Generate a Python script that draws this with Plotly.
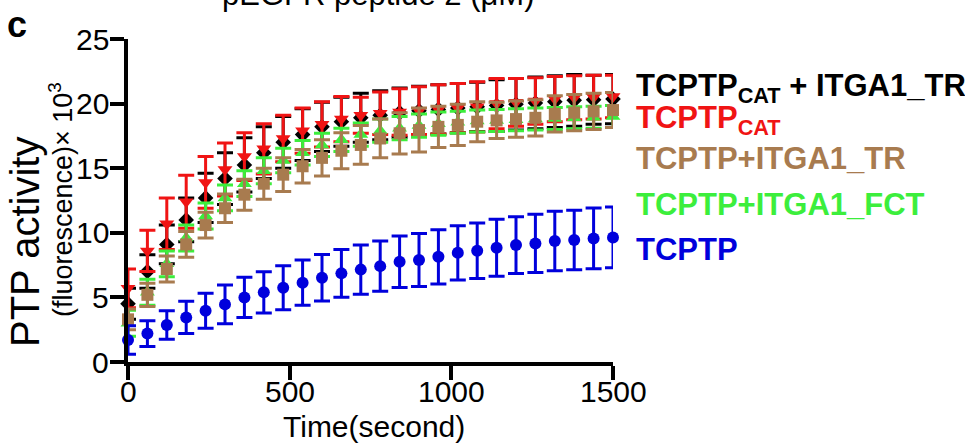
import plotly.graph_objects as go

# ---------------- data ----------------
time_s = [0, 60, 120, 180, 240, 300, 360, 420, 480, 540, 600, 660, 720, 780, 840,
          900, 960, 1020, 1080, 1140, 1200, 1260, 1320, 1380, 1440, 1500]

cat_tr_mean = [4.5, 7.0, 9.1, 11.0, 12.7, 14.2, 15.25, 16.2, 17.0, 17.6, 18.2, 18.6, 18.9,
               19.1, 19.3, 19.45, 19.55, 19.65, 19.75, 19.85, 19.95, 20.05, 20.15, 20.25, 20.3, 20.35]
cat_tr_err = [1.2, 1.3, 1.5, 1.7, 1.9, 2.0, 2.1, 2.0, 2.0, 2.0, 1.9, 1.9, 1.9,
              1.9, 1.9, 1.9, 1.9, 1.9, 1.9, 2.0, 2.0, 2.0, 2.0, 2.0, 1.9, 1.9]

cat_mean = [5.7, 8.6, 10.7, 12.4, 13.9, 14.9, 15.9, 16.5, 17.3, 17.9, 18.4, 18.8, 19.1,
            19.25, 19.35, 19.45, 19.55, 19.65, 19.75, 20.0, 20.1, 20.2, 20.35, 20.45, 20.5, 20.55]
cat_err = [1.5, 1.6, 2.0, 2.05, 2.0, 2.05, 1.85, 1.95, 1.8, 1.75, 1.75, 1.75, 1.4,
           1.65, 1.8, 1.85, 1.9, 1.9, 1.95, 1.95, 1.85, 1.8, 1.75, 1.7, 1.7, 1.65]

tr_mean = [3.3, 5.2, 7.2, 9.1, 10.6, 11.9, 12.95, 13.8, 14.5, 15.15, 15.8, 16.35, 16.8,
           17.3, 17.7, 17.95, 18.2, 18.35, 18.6, 18.7, 18.8, 18.9, 19.2, 19.3, 19.4, 19.5]
tr_err = [0.8, 0.9, 1.0, 1.0, 1.0, 1.1, 1.2, 1.2, 1.3, 1.3, 1.4, 1.4, 1.5,
          1.5, 1.6, 1.7, 1.6, 1.6, 1.55, 1.4, 1.4, 1.4, 1.4, 1.4, 1.4, 1.35]

fct_mean = [3.0, 5.4, 7.6, 9.6, 11.3, 12.7, 13.8, 14.8, 15.6, 16.2, 16.8, 17.2, 17.6,
            17.9, 18.1, 18.3, 18.45, 18.55, 18.65, 18.7, 18.75, 18.8, 18.85, 18.9, 18.95, 19.0]
fct_err = [1.0, 1.0, 1.0, 1.0, 1.0, 1.0, 1.0, 1.0, 0.95, 0.95, 0.9, 0.9, 0.9,
           0.9, 0.9, 0.9, 0.9, 0.85, 0.85, 0.85, 0.85, 0.85, 0.85, 0.85, 0.85, 0.85]

tcptp_mean = [1.7, 2.2, 2.86, 3.45, 3.97, 4.46, 5.0, 5.39, 5.75, 6.14, 6.52, 6.86, 7.15,
              7.42, 7.76, 7.89, 8.14, 8.45, 8.61, 8.84, 9.05, 9.18, 9.36, 9.44, 9.56, 9.64]
tcptp_err = [1.1, 1.0, 1.1, 1.25, 1.35, 1.5, 1.55, 1.6, 1.7, 1.75, 1.8, 1.85, 1.9,
             1.95, 2.0, 2.05, 2.1, 2.1, 2.15, 2.2, 2.2, 2.25, 2.3, 2.3, 2.35, 2.35]

x_ticks = [0, 500, 1000, 1500]
x_tick_labels = ["0", "500", "1000", "1500"]
y_ticks = [0, 5, 10, 15, 20, 25]
y_tick_labels = ["0", "5", "10", "15", "20", "25"]

# ---------------- style ----------------
FONT = "Liberation Sans, Arial, Helvetica, sans-serif"
BLACK = "#000000"
RED = "#F01414"
BROWN = "#A87B4F"
GREEN = "#3CEE3C"
BLUE = "#0000DC"

W, H = 965, 444
L, R, T, B = 128, 352, 39, 82
PW, PH = W - L - R, H - T - B


def px_x(p):
    return (p - L) / PW


def px_y(p):
    return (H - B - p) / PH


fig = go.Figure()

series = [
    (cat_tr_mean, cat_tr_err, BLACK, "diamond", 12),
    (cat_mean, cat_err, RED, "triangle-down", 13),
    (fct_mean, fct_err, GREEN, "triangle-up", 13),
    (tr_mean, tr_err, BROWN, "square", 12),
    (tcptp_mean, tcptp_err, BLUE, "circle", 12),
]
for mean, err, col, sym, size in series:
    fig.add_trace(go.Scatter(
        x=time_s, y=mean, mode="markers",
        marker=dict(symbol=sym, size=size, color=col, line=dict(width=0)),
        error_y=dict(type="data", array=err, visible=True, color=col,
                     thickness=3, width=8),
        cliponaxis=False, showlegend=False, hoverinfo="skip",
    ))

axis_common = dict(
    showline=True, linecolor=BLACK, linewidth=4, mirror=False,
    ticks="outside", ticklen=14, tickwidth=4, tickcolor=BLACK,
    showgrid=False, zeroline=False, showticklabels=False,
)
fig.update_xaxes(range=[0, 1500], tickvals=x_ticks, **axis_common)
fig.update_yaxes(range=[0, 25], tickvals=y_ticks, **axis_common)

TICKFONT = dict(family=FONT, size=30, color=BLACK)
annotations = []
for v, lab in zip(x_ticks, x_tick_labels):
    annotations.append(dict(text=lab, x=v, xref="x", y=px_y(373), yref="paper",
                            xanchor="center", yanchor="top", font=TICKFONT))
for v, lab in zip(y_ticks, y_tick_labels):
    annotations.append(dict(text=lab, x=px_x(111), xref="paper", y=v, yref="y",
                            xanchor="right", yanchor="middle", font=TICKFONT))

annotations += [
    # x-axis title
    dict(text="Time(second)", x=px_x(374), y=px_y(426), xanchor="center", yanchor="middle",
         font=dict(family=FONT, size=30, color=BLACK)),
    # y-axis titles
    dict(text="PTP activity", x=px_x(25), y=px_y(242), xanchor="center", yanchor="middle",
         textangle=-90, font=dict(family=FONT, size=40, color=BLACK)),
    dict(text="(fluorescence)× 10<sup>3</sup>", x=px_x(61), y=px_y(200), xanchor="center",
         yanchor="middle", textangle=-90, font=dict(family=FONT, size=27, color=BLACK)),
    # panel label and cut-off title
    dict(text="<b>c</b>", x=px_x(17), y=px_y(25), xanchor="center", yanchor="middle",
         font=dict(family=FONT, size=36, color=BLACK)),
    dict(text="pEGFR peptide 2 (μM)", x=px_x(378), y=px_y(-5), xanchor="center",
         yanchor="middle", font=dict(family=FONT, size=31, color=BLACK)),
    # legend texts
    dict(text="<b>TCPTP<sub>CAT</sub> + ITGA1_TR</b>", x=px_x(634), y=px_y(88),
         xanchor="left", yanchor="middle", font=dict(family=FONT, size=31, color=BLACK)),
    dict(text="<b>TCPTP<sub>CAT</sub></b>", x=px_x(634), y=px_y(120),
         xanchor="left", yanchor="middle", font=dict(family=FONT, size=31, color=RED)),
    dict(text="<b>TCPTP+ITGA1_TR</b>", x=px_x(634), y=px_y(158),
         xanchor="left", yanchor="middle", font=dict(family=FONT, size=31, color=BROWN)),
    dict(text="<b>TCPTP+ITGA1_FCT</b>", x=px_x(634), y=px_y(205),
         xanchor="left", yanchor="middle", font=dict(family=FONT, size=31, color=GREEN)),
    dict(text="<b>TCPTP</b>", x=px_x(634), y=px_y(249),
         xanchor="left", yanchor="middle", font=dict(family=FONT, size=31, color=BLUE)),
]
for a in annotations:
    a.update(showarrow=False)
    a.setdefault("xref", "paper")
    a.setdefault("yref", "paper")

fig.update_layout(
    width=W, height=H,
    margin=dict(l=L, r=R, t=T, b=B, pad=0),
    paper_bgcolor="white", plot_bgcolor="white",
    font=dict(family=FONT, color=BLACK),
    annotations=annotations,
)

fig.write_html("out.html")
